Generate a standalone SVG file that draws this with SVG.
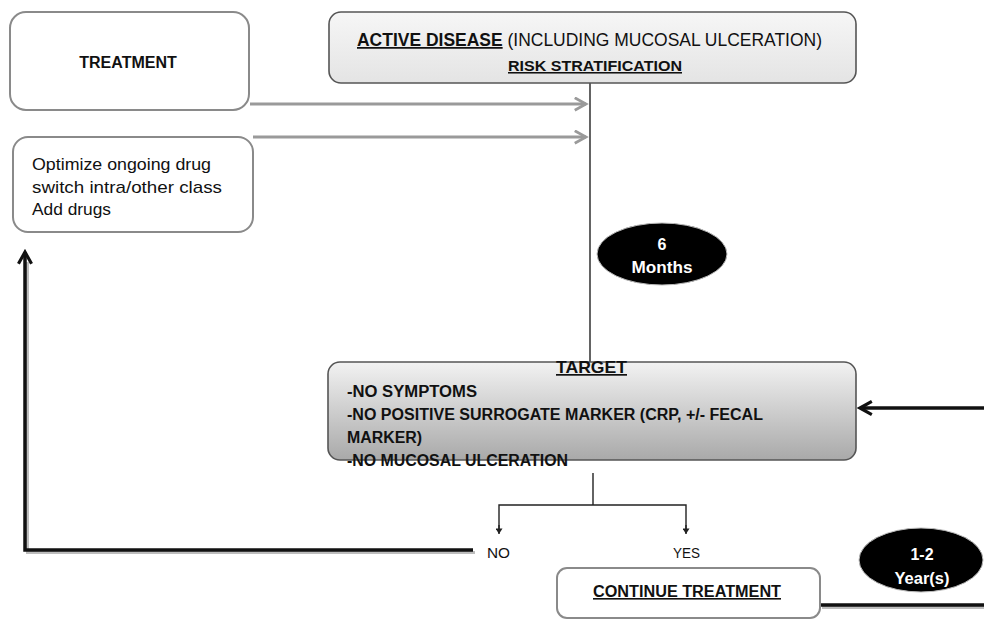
<svg xmlns="http://www.w3.org/2000/svg" width="984" height="622" viewBox="0 0 984 622">
<style>
.t{font-family:"Liberation Sans",Arial,sans-serif;fill:#111}
.b{font-weight:bold}
.u{text-decoration:underline}
.wbox{fill:#fff;stroke:#8a8a8a;stroke-width:2}
.gbox{stroke:#555;stroke-width:1.6}
.thin{fill:none;stroke:#222;stroke-width:1.4}
.thick{fill:none;stroke:#111;stroke-width:3.5}
.shadow{fill:none;stroke:#bdbdbd;stroke-width:3}
.grey{fill:none;stroke:#9a9a9a;stroke-width:3}
.wt{font-family:"Liberation Sans",Arial,sans-serif;fill:#fff;font-weight:bold;font-size:16px}
.tg{font-size:16px}
</style>
<defs>
<linearGradient id="g1" x1="0" y1="0" x2="0" y2="1">
<stop offset="0" stop-color="#f6f6f6"/><stop offset="1" stop-color="#e4e4e4"/>
</linearGradient>
<linearGradient id="g2" x1="0" y1="0" x2="0" y2="1">
<stop offset="0" stop-color="#f2f2f2"/><stop offset="1" stop-color="#a9a9a9"/>
</linearGradient>
<marker id="ag" viewBox="0 0 12 12" refX="10" refY="6" markerWidth="5" markerHeight="5" orient="auto" markerUnits="strokeWidth">
<path d="M1,1 L10,6 L1,11" fill="none" stroke="#9a9a9a" stroke-width="2.2"/>
</marker>
<marker id="ak" viewBox="0 0 12 12" refX="10" refY="6" markerWidth="4.5" markerHeight="4.5" orient="auto" markerUnits="strokeWidth">
<path d="M1,1 L10,6 L1,11" fill="none" stroke="#111" stroke-width="2.4"/>
</marker>
<marker id="as" viewBox="0 0 10 10" refX="9" refY="5" markerWidth="7" markerHeight="7" orient="auto" markerUnits="userSpaceOnUse">
<path d="M1,0 L9,5 L1,10 Z" fill="#222"/>
</marker>
</defs>

<g id="connectors">
<line class="grey" x1="250" y1="104" x2="586" y2="104" marker-end="url(#ag)"/>
<line class="grey" x1="253" y1="137" x2="586" y2="137" marker-end="url(#ag)"/>
<line class="thin" x1="590" y1="82" x2="590" y2="362"/>
<polyline class="thin" points="593,473 593,505"/>
<polyline class="thin" points="499,533 499,505 686,505 686,533" />
<line class="thin" x1="499" y1="525" x2="499" y2="534" marker-end="url(#as)"/>
<line class="thin" x1="686" y1="525" x2="686" y2="534" marker-end="url(#as)"/>
<polyline class="shadow" points="475,552.5 27.5,552.5 27.5,262"/>
<polyline class="thick" points="473,550 25,550 25,252" marker-end="url(#ak)"/>
<polyline class="shadow" points="822,607.5 984,607.5"/>
<polyline class="thick" points="820,605 984,605"/>
<line class="thick" x1="984" y1="408" x2="860" y2="408" marker-end="url(#ak)"/>
</g>

<g id="treatment">
<rect class="wbox" x="10" y="12" width="239" height="98" rx="16"/>
<text class="t b" x="128" y="68" font-size="16" text-anchor="middle">TREATMENT</text>
</g>

<g id="optimize">
<rect class="wbox" x="13" y="137" width="240" height="95" rx="15"/>
<text class="t" x="32" y="170" font-size="17" textLength="179" lengthAdjust="spacingAndGlyphs">Optimize ongoing drug</text>
<text class="t" x="32" y="193" font-size="17" textLength="190" lengthAdjust="spacingAndGlyphs">switch intra/other class</text>
<text class="t" x="32" y="215" font-size="17" textLength="79" lengthAdjust="spacingAndGlyphs">Add drugs</text>
</g>

<g id="active">
<rect class="gbox" x="329" y="12" width="527" height="71" rx="12" fill="url(#g1)"/>
<text class="t" x="357" y="46" font-size="17.5" textLength="465" lengthAdjust="spacingAndGlyphs"><tspan class="b u">ACTIVE DISEASE</tspan> (INCLUDING MUCOSAL ULCERATION)</text>
<text class="t b u" x="508" y="71" font-size="15.5" textLength="174" lengthAdjust="spacingAndGlyphs">RISK STRATIFICATION</text>
</g>

<g id="six-months">
<ellipse cx="662" cy="254" rx="65" ry="31" fill="#000" stroke="#bbb" stroke-width="1"/>
<text class="wt" x="662" y="250" text-anchor="middle">6</text>
<text class="wt" x="662" y="273" text-anchor="middle" textLength="61" lengthAdjust="spacingAndGlyphs">Months</text>
</g>

<g id="target">
<rect class="gbox" x="328" y="362" width="528" height="98" rx="12" fill="url(#g2)"/>
<text class="t b u" x="556" y="373" font-size="17" textLength="71" lengthAdjust="spacingAndGlyphs">TARGET</text>
<text class="t b tg" x="347" y="397" textLength="130" lengthAdjust="spacingAndGlyphs">-NO SYMPTOMS</text>
<text class="t b tg" x="347" y="420" textLength="416" lengthAdjust="spacingAndGlyphs">-NO POSITIVE SURROGATE MARKER (CRP, +/- FECAL</text>
<text class="t b tg" x="347" y="443" textLength="75" lengthAdjust="spacingAndGlyphs">MARKER)</text>
<text class="t b tg" x="347" y="466" textLength="221" lengthAdjust="spacingAndGlyphs">-NO MUCOSAL ULCERATION</text>
</g>

<g id="no">
<text class="t" x="487" y="558" font-size="15" textLength="23" lengthAdjust="spacingAndGlyphs">NO</text>
</g>
<g id="yes">
<text class="t" x="673" y="558" font-size="15" textLength="27" lengthAdjust="spacingAndGlyphs">YES</text>
</g>

<g id="continue">
<rect class="wbox" x="557" y="568" width="263" height="50" rx="10"/>
<text class="t b u" x="593" y="597" font-size="16" textLength="188" lengthAdjust="spacingAndGlyphs">CONTINUE TREATMENT</text>
</g>

<g id="years">
<ellipse cx="921" cy="560" rx="62" ry="32" fill="#000" stroke="#bbb" stroke-width="1"/>
<text class="wt" x="922" y="560" text-anchor="middle">1-2</text>
<text class="wt" x="922" y="584" text-anchor="middle" textLength="55" lengthAdjust="spacingAndGlyphs">Year(s)</text>
</g>
</svg>
